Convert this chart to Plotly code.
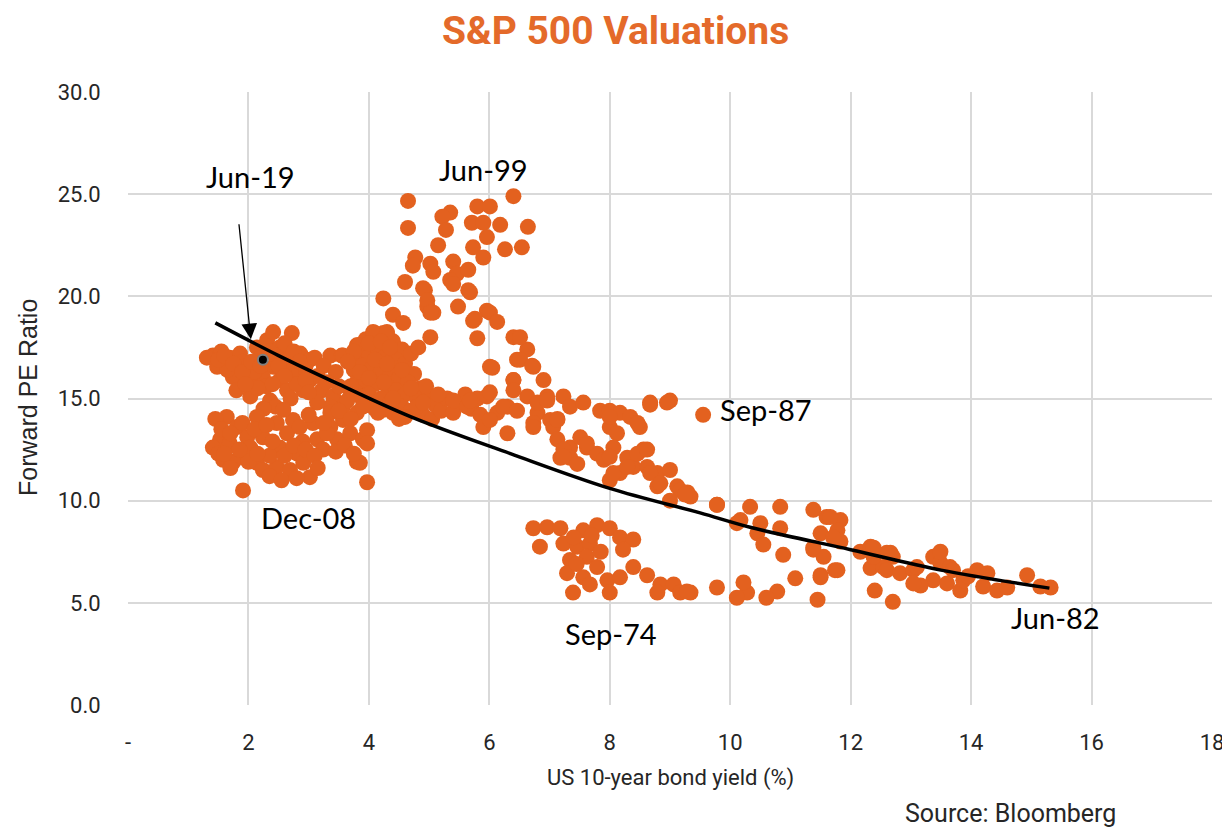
import plotly.graph_objects as go

# ---- data ----
# (bond yield %, forward PE) pairs, grouped by region of the cloud
low_yield_upper = [
    (1.41,17.1),(1.58,16.75),(1.48,16.55),(1.69,17.0),(1.86,17.2),(1.98,16.55),(1.74,16.05),
    (2.03,15.9),(2.14,17.5),(2.31,17.85),(2.41,18.25),(2.72,18.2),(2.52,17.5),(2.64,16.9),
    (2.41,16.55),(2.24,16.05),(2.52,15.9),(2.81,16.25),(2.86,17.2),(3.02,16.9),(3.36,17.1),
    (3.55,17.1),(3.02,15.9),(2.91,15.4),(2.64,15.4),(2.03,15.1),(2.36,14.9),(3.22,15.4),
    (3.41,15.1),(3.57,14.6),(3.36,14.6),(3.14,14.8),(3.8,16.25),(3.9,15.75),(3.85,15.1),
    (4.02,14.8),(1.31,17.0),(3.9,17.7),(4.02,17.0),(4.24,18.2),(4.4,16.55),(4.57,15.6),
    (4.35,14.9),(4.24,14.45),(1.55,17.3),(1.9,16.8),(2.2,17.0),(2.45,17.1),(2.7,16.3),
    (2.1,16.3),(1.65,16.4),(2.95,16.6),(3.15,16.1),(2.8,15.7),(2.3,15.6),(1.8,15.4),
    (1.5,16.9),(1.6,17.1),(1.75,16.7),(1.9,16.3),(2.05,16.8),(2.2,16.6),(2.35,17.3),
    (2.5,16.6),(2.6,17.7),(2.75,17.3),(2.85,16.8),(3.1,17.0),(3.25,16.6),(3.45,16.3),
    (2.95,15.9),(2.6,16.1),(2.4,15.7),(2.15,15.5),(1.95,15.7),(2.7,15.0),(3.0,15.3),
    (3.3,15.8),(3.5,15.6),(3.7,15.3),(2.45,14.6),(2.25,14.5),
]
low_yield_lower = [
    (1.64,14.1),(2.14,14.1),(1.81,13.6),(1.53,13.0),(1.41,12.6),(1.69,12.8),(1.98,13.1),
    (2.24,13.1),(1.58,12.0),(1.86,12.15),(2.14,11.85),(2.24,11.5),(2.47,11.65),(2.03,12.6),
    (1.91,10.5),(2.52,12.6),(2.64,13.3),(2.47,13.8),(2.74,13.95),(2.58,14.45),(2.81,12.3),
    (2.91,11.85),(3.02,11.15),(2.69,11.5),(3.14,13.0),(3.24,12.5),(3.07,13.8),(3.36,13.6),
    (3.47,13.0),(3.57,13.95),(3.69,13.3),(3.9,13.0),(3.97,13.45),(3.8,11.9),(3.97,10.9),
    (3.36,14.3),(3.8,14.3),(3.64,14.9),(3.85,11.85),(3.97,12.8),(1.5,12.3),(1.75,11.9),
    (2.35,12.2),(2.9,12.9),(3.3,13.3),(1.45,14.0),
    (1.55,13.5),(1.7,13.3),(1.9,13.8),(2.1,13.5),(2.3,13.7),(2.4,12.9),(2.6,12.2),
    (2.75,12.7),(2.95,12.5),(3.1,12.2),(3.25,13.8),(3.45,12.4),(3.6,12.7),(3.75,12.3),
    (2.0,11.9),(1.7,11.6),(2.35,11.2),(2.55,11.0),(2.8,11.1),(3.15,11.6),(1.85,12.5),
    (2.15,12.3),(3.5,14.4),(3.7,14.0),(3.0,14.2),(2.85,13.6),(1.6,12.3),
]
mid_blob = [
    (3.8,17.6),(3.95,17.9),(4.1,18.2),(4.3,18.2),(4.4,17.8),(4.55,17.4),(3.85,16.9),(4.0,17.2),
    (4.15,17.4),(4.25,17.0),(4.45,16.9),(4.6,16.7),(4.75,16.2),(3.75,16.4),(3.9,16.6),
    (4.05,16.5),(4.2,16.3),(4.35,16.2),(4.5,16.0),(4.65,15.8),(4.85,15.5),(3.8,15.8),
    (3.95,15.9),(4.1,15.7),(4.3,15.6),(4.45,15.4),(4.6,15.2),(4.8,15.0),(5.0,15.1),(5.1,14.7),
    (4.0,15.2),(4.2,15.0),(4.35,14.8),(4.55,14.6),(4.7,14.4),(4.9,14.2),(5.05,14.0),(4.4,14.3),
    (4.1,14.5),(3.9,14.6),(4.6,14.1),(4.8,14.6),(5.2,14.4),(4.95,15.6),(4.7,17.2),(3.57,17.1),
    (3.82,17.6),(4.07,18.25),(4.3,18.25),(5.3,15.0),(5.5,14.8),(5.7,14.5),(5.4,14.3),
    (5.6,15.2),(5.8,15.0),(5.85,14.2),
    (3.75,17.3),(4.0,17.7),(4.2,17.8),(4.35,17.5),(3.85,16.3),(4.1,16.9),(4.3,16.7),
    (4.55,16.4),(4.0,16.0),(4.25,15.8),(4.4,15.0),(4.15,14.3),(4.7,15.5),(4.9,14.8),
    (5.15,15.2),(4.5,14.0),(3.65,16.8),(3.7,15.6),
]
bubble_arm = [
    (4.65,24.67),(4.65,23.35),(5.35,24.1),(5.22,23.9),(5.28,23.25),(5.8,24.4),(6.01,24.4),
    (6.4,24.9),(6.64,23.4),(5.71,23.6),(5.9,23.6),(6.18,23.5),(5.96,22.9),(5.73,22.4),
    (5.9,21.9),(6.26,22.3),(6.54,22.4),(5.15,22.5),(4.77,21.9),(4.73,21.5),(5.02,21.6),
    (5.07,21.2),(5.4,21.7),(5.46,21.1),(5.65,21.3),(4.6,20.7),(4.93,20.3),(5.35,20.8),
    (5.68,20.2),(4.24,19.9),(4.97,19.5),(5.48,19.5),(4.4,19.1),(5.07,19.2),(5.96,19.3),
    (4.9,20.4),(4.97,19.8),(5.4,20.6),(5.65,20.3),(5.02,19.2),(4.57,18.7),(5.73,18.8),
    (6.01,19.2),(6.13,18.75),(5.02,18.0),(5.8,17.95),(6.4,18.0),(4.82,17.5),(6.63,17.4),
    (6.05,16.5),(6.46,16.9),(6.73,16.55),(6.9,15.9),(5.76,18.9),(6.51,18.0),(6.51,16.9),
    (6.71,16.6),(6.01,16.55),(6.4,15.9),
]
mid_band = [
    (5.4,14.9),(5.63,14.6),(5.96,15.1),(6.13,14.3),(6.3,14.6),(6.4,15.9),(6.63,15.1),
    (6.8,14.3),(6.96,15.1),(7.13,14.0),(7.34,12.6),(7.18,12.1),(5.9,13.6),(6.3,13.3),
    (5.68,14.9),(6.01,15.3),(6.23,14.6),(6.4,15.4),(6.8,14.8),(6.96,14.9),(6.01,13.95),
    (6.73,13.8),(7.01,13.95),(7.23,15.1),(7.34,14.6),(7.56,14.8),(7.84,14.4),(8.0,14.4),
    (8.17,14.3),(8.34,14.1),(8.67,14.8),(9.0,14.9),(9.55,14.2),(8.0,13.6),(8.12,13.3),
    (8.5,13.6),(7.06,13.6),(7.13,13.0),(7.23,12.5),(7.34,12.1),(7.51,13.1),(7.62,12.6),
    (7.79,12.3),(7.9,12.0),(8.06,12.6),(8.29,12.1),(8.56,12.5),(8.39,11.65),(8.62,11.65),
    (8.79,11.35),(9.0,11.5),(8.79,10.7),(9.12,10.7),(9.29,10.4),(8.17,11.35),(8.0,11.0),
    (6.46,14.4),(6.73,13.6),(7.13,13.95),(7.23,12.15),(7.46,11.8),(7.62,12.8),(8.0,12.15),
    (8.06,11.35),(8.29,11.65),(8.46,12.3),(8.62,12.5),(8.67,11.35),(8.84,10.85),(9.17,10.5),
    (9.34,10.2),(9.78,9.8),(9.0,10.0),(8.0,14.1),(8.46,13.8),(8.67,14.7),(8.95,14.8),
]
seventies_low = [
    (6.73,8.65),(6.96,8.7),(7.18,8.65),(6.84,7.75),(7.23,7.9),(7.56,8.55),(7.79,8.8),
    (8.0,8.65),(8.17,8.2),(8.39,8.1),(8.22,7.6),(7.46,7.75),(7.67,7.9),(7.34,7.1),
    (7.62,7.25),(7.79,6.75),(7.29,6.45),(7.56,6.25),(7.39,5.5),(7.67,5.9),(7.96,6.1),
    (8.0,5.5),(8.17,6.25),(8.39,6.75),(8.62,6.35),(8.84,5.9),(8.79,5.5),(9.06,5.9),
    (9.17,5.5),(9.34,5.5),(9.78,5.75),(7.4,8.2),(7.7,8.3),(7.85,7.5),(7.45,6.9),
]
high_yield = [
    (9.25,10.3),(9.78,9.8),(10.33,9.7),(10.83,9.7),(10.17,9.05),(10.5,8.9),(10.45,8.4),
    (10.83,8.65),(10.55,7.85),(10.88,7.35),(11.38,9.55),(11.6,9.2),(11.83,9.05),(11.5,8.4),
    (11.78,8.55),(11.83,8.0),(11.38,7.6),(11.55,7.25),(11.5,6.35),(11.74,6.6),(11.08,6.2),
    (11.45,5.15),(10.78,5.55),(10.6,5.25),(10.28,5.5),(10.22,6.0),(10.11,5.25),(9.28,5.55),
    (12.16,7.5),(12.33,7.75),(12.33,6.7),(12.54,6.75),(12.66,7.45),(12.4,5.6),(12.7,5.05),
    (10.11,8.9),(11.66,9.2),(11.71,8.2),(11.38,7.7),(11.78,6.6),(11.5,6.25),(12.38,7.25),
    (12.6,7.45),(12.7,7.25),(12.6,6.6),(12.82,6.45),(13.04,6.6),(13.1,6.75),(13.37,7.25),
    (13.49,6.95),(13.65,6.75),(13.37,6.1),(13.6,5.95),(13.82,5.6),(13.7,6.6),(13.87,6.1),
    (14.1,6.6),(14.27,6.45),(14.2,5.8),(14.43,5.6),(14.6,5.75),(14.93,6.35),(15.15,5.8),
    (15.32,5.75),(13.16,5.85),(13.04,5.95),(13.49,7.5),(12.38,7.7),(13.95,6.3),
]
groups = [low_yield_upper, low_yield_lower, mid_blob, bubble_arm, mid_band, seventies_low, high_yield]
bond_yield = [p[0] for g in groups for p in g]
forward_pe = [p[1] for g in groups for p in g]

# latest observation (Jun-19) and the arrow pointing at it
latest_x = [2.24]
latest_y = [16.9]
arrow_tip = (2.04, 17.9)
arrow_tail = (1.84, 23.6)

# trend curve
trend_x = [1.45, 2.5, 3.5, 4.7, 6.35, 8.0, 9.5, 10.33, 12.0, 13.5, 15.3]
trend_y = [18.7, 17.1, 15.7, 14.1, 12.3, 10.6, 9.4, 8.7, 7.6, 6.6, 5.72]

x_tickvals = [0, 2, 4, 6, 8, 10, 12, 14, 16, 18]
x_ticktext = ["-", "2", "4", "6", "8", "10", "12", "14", "16", "18"]
y_tickvals = [0, 5, 10, 15, 20, 25, 30]

labels = [
    ("Jun-19", 2.03, 25.85, "center"),
    ("Jun-99", 5.9, 26.2, "center"),
    ("Sep-87", 9.8, 14.45, "left"),
    ("Dec-08", 3.0, 9.2, "center"),
    ("Sep-74", 8.02, 3.52, "center"),
    ("Jun-82", 15.4, 4.3, "center"),
]

ORANGE = "#E3611F"
NARROW = "Roboto"
REGULAR = "Liberation Sans"
LABEL_FONT = "Lato"
TEXT = "#262626"

# the page body adds an 8px margin, so the figure is 8px smaller than the window
PAGE_OFF = 8
PLOT_L, PLOT_R, PLOT_T, PLOT_B = 128, 1212, 92, 705   # plot area in window pixels
W, H = 1230 - PAGE_OFF, 829 - PAGE_OFF
PW, PH = PLOT_R - PLOT_L, PLOT_B - PLOT_T


def px(xw, yw):
    """window pixel -> paper coordinates"""
    return (xw - PLOT_L) / PW, (PLOT_B - yw) / PH


fig = go.Figure()
fig.add_trace(go.Scatter(
    x=bond_yield, y=forward_pe, mode="markers",
    marker=dict(size=16, color=ORANGE, line=dict(width=0)),
    hoverinfo="skip", showlegend=False,
))
fig.add_trace(go.Scatter(
    x=trend_x, y=trend_y, mode="lines",
    line=dict(color="black", width=3.5, shape="spline"),
    showlegend=False, hoverinfo="skip",
))
fig.add_trace(go.Scatter(
    x=latest_x, y=latest_y, mode="markers",
    marker=dict(size=10, color="black", line=dict(width=2, color="#7F7F7F")),
    showlegend=False, hoverinfo="skip",
))

for text, lx, ly, anchor in labels:
    fig.add_annotation(x=lx, y=ly, xref="x", yref="y", text=text, showarrow=False,
                       xanchor=anchor, yanchor="middle",
                       font=dict(family=LABEL_FONT, size=29, color="black"))

fig.add_annotation(x=arrow_tip[0], y=arrow_tip[1], xref="x", yref="y",
                   ax=arrow_tail[0], ay=arrow_tail[1], axref="x", ayref="y", text="",
                   showarrow=True, arrowhead=2, arrowsize=2.4, arrowwidth=1.3,
                   arrowcolor="black")

# title, axis titles, source
tx, ty = px(615, 31)
fig.add_annotation(x=tx, y=ty, xref="paper", yref="paper", xanchor="center", yanchor="middle",
                   text="<b>S&P 500 Valuations</b>", showarrow=False,
                   font=dict(family=NARROW, size=39, color="#E46A2A"))
tx, ty = px(670, 778)
fig.add_annotation(x=tx, y=ty, xref="paper", yref="paper", xanchor="center", yanchor="middle",
                   text="US 10-year bond yield (%)", showarrow=False,
                   font=dict(family=NARROW, size=22, color=TEXT))
tx, ty = px(28, 398)
fig.add_annotation(x=tx, y=ty, xref="paper", yref="paper", xanchor="center", yanchor="middle",
                   text="Forward PE Ratio", textangle=-90, showarrow=False,
                   font=dict(family=REGULAR, size=25, color=TEXT))
tx, ty = px(1118, 813)
fig.add_annotation(x=tx, y=ty, xref="paper", yref="paper", xanchor="right", yanchor="middle",
                   text="Source: Bloomberg", showarrow=False,
                   font=dict(family=NARROW, size=25, color=TEXT))

fig.update_layout(
    width=W, height=H,
    margin=dict(l=PLOT_L - PAGE_OFF, r=1230 - PLOT_R, t=PLOT_T - PAGE_OFF, b=829 - PLOT_B,
                autoexpand=False),
    plot_bgcolor="white", paper_bgcolor="white",
    showlegend=False,
    font=dict(family=NARROW, color=TEXT),
)
fig.update_xaxes(
    range=[0, 18], tickvals=x_tickvals, ticktext=x_ticktext,
    showgrid=True, gridcolor="#D9D9D9", gridwidth=2, zeroline=False,
    showline=False, ticks="outside", ticklen=18, tickcolor="rgba(0,0,0,0)",
    tickfont=dict(family=NARROW, size=22, color=TEXT),
)
fig.update_yaxes(
    range=[0, 30], tickvals=y_tickvals, tickformat=".1f",
    showgrid=True, gridcolor="#D9D9D9", gridwidth=2, zeroline=False,
    showline=False, ticks="outside", ticklen=22, tickcolor="rgba(0,0,0,0)",
    tickfont=dict(family=NARROW, size=22, color=TEXT),
)
fig.write_html("out.html")
